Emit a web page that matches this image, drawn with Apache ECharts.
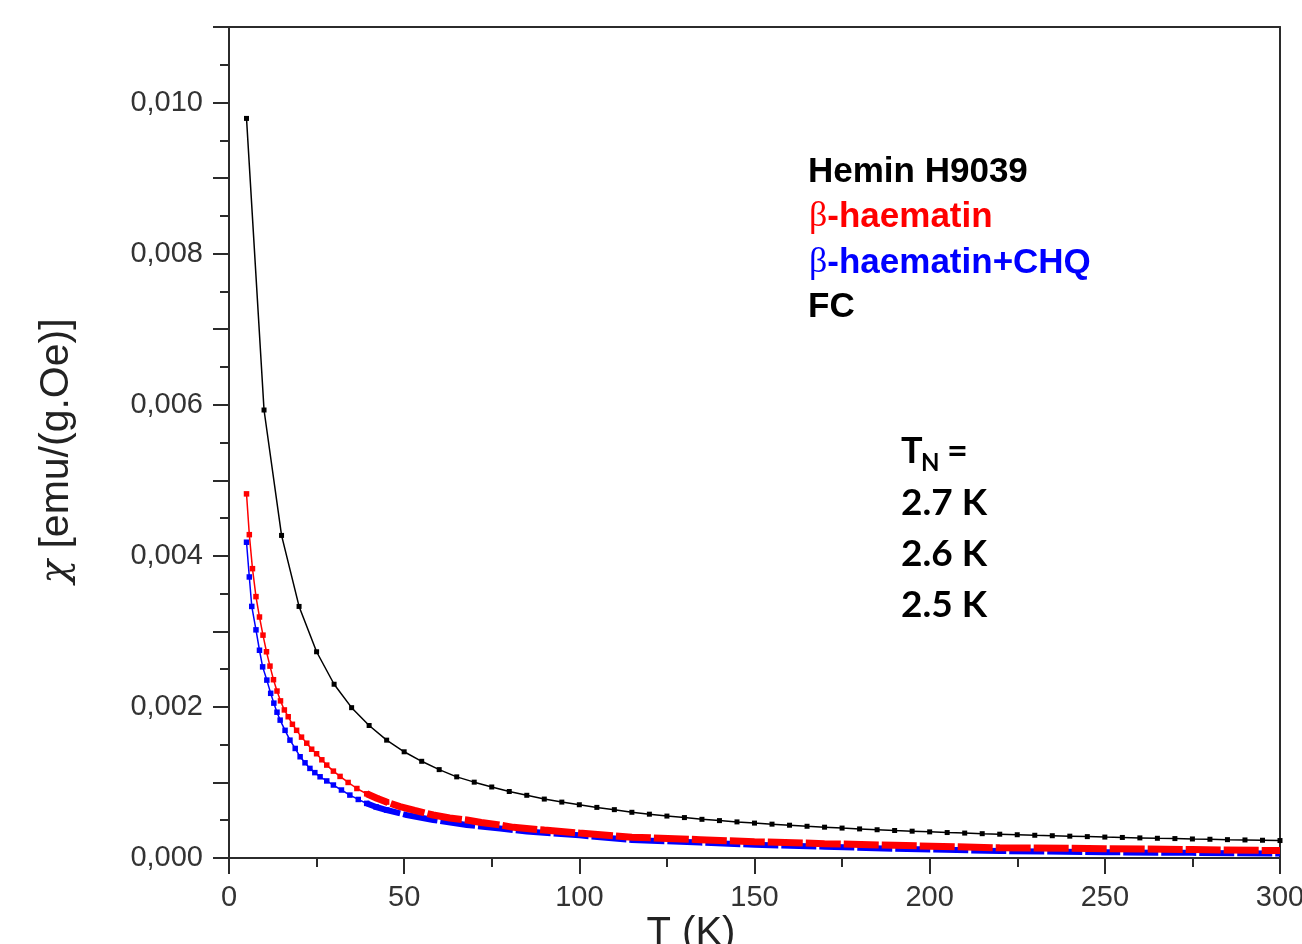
<!DOCTYPE html>
<html>
<head>
<meta charset="utf-8">
<title>Susceptibility vs temperature</title>
<script src="https://cdn.jsdelivr.net/npm/echarts@6/dist/echarts.min.js"></script>
<style>
  html, body { margin: 0; padding: 0; background: #fff; }
  #chart { width: 1302px; height: 944px; }
</style>
</head>
<body>
<div id="chart"></div>
<script>
// Hemin H9039 (FC), temperature in K and susceptibility in emu/(g.Oe)
const heminT = [5, 10, 15, 20, 25, 30, 35, 40, 45, 50, 55, 60, 65, 70, 75, 80, 85, 90, 95, 100,
  105, 110, 115, 120, 125, 130, 135, 140, 145, 150, 155, 160, 165, 170, 175, 180, 185, 190, 195, 200,
  205, 210, 215, 220, 225, 230, 235, 240, 245, 250, 255, 260, 265, 270, 275, 280, 285, 290, 295, 300];
const heminChi = [0.00979, 0.00593, 0.00427, 0.00333, 0.00273, 0.00230, 0.00199, 0.001754, 0.00156, 0.001406,
  0.00128, 0.00117, 0.001074, 0.001004, 0.00094, 0.00088, 0.00083, 0.00078, 0.00074, 0.000705,
  0.00067, 0.00064, 0.000605, 0.00058, 0.000555, 0.000535, 0.000512, 0.000495, 0.000478, 0.000462,
  0.000448, 0.000434, 0.00042, 0.000408, 0.000396, 0.000385, 0.000374, 0.000364, 0.000355, 0.000346,
  0.000337, 0.00033, 0.000322, 0.000315, 0.000308, 0.000301, 0.000295, 0.000289, 0.000283, 0.000277,
  0.000272, 0.000266, 0.000261, 0.000257, 0.000252, 0.000248, 0.000243, 0.000239, 0.000235, 0.000231];

// beta-haematin
const betaT = [5, 5.8, 6.7, 7.7, 8.7, 9.7, 10.7, 11.7, 12.7, 13.7, 14.7, 15.8, 16.9, 18.1, 19.3, 20.7,
  22.2, 23.6, 25, 26.5, 27.9, 29.8, 31.7, 34, 36.5, 39.3, 42.2, 45, 48.8, 53, 58.3, 63, 67.9, 72,
  77.4, 81.2, 90, 100, 115, 134.5, 150, 170, 190, 220, 250, 275, 300];
const betaChi = [0.00482, 0.00428, 0.00383, 0.00346, 0.00319, 0.00295, 0.00273, 0.00254, 0.00236, 0.00221,
  0.00208, 0.00196, 0.00187, 0.00177, 0.00169, 0.00160, 0.00152, 0.00144, 0.00138, 0.00130, 0.00123,
  0.00115, 0.00108, 0.00100, 0.00092, 0.00085, 0.00079, 0.00074, 0.00068, 0.00063, 0.000569, 0.00053,
  0.000503, 0.00047, 0.000437, 0.000406, 0.00037, 0.00033, 0.000276, 0.000243, 0.000216, 0.00019,
  0.000168, 0.000135, 0.000124, 0.000111, 0.000098];

// beta-haematin + CHQ
const chqT = [5, 5.8, 6.5, 7.7, 8.7, 9.6, 10.8, 11.9, 12.8, 13.7, 14.6, 16, 17.4, 18.9, 20.3, 21.7,
  23.1, 24.5, 26, 27.9, 29.8, 32.1, 34.5, 36.9, 39.3, 42, 45, 50.7, 58.3, 67.9, 77.4, 85, 100, 115,
  134.5, 150, 170, 190, 220, 250, 275, 300];
const chqChi = [0.00418, 0.00372, 0.00333, 0.00302, 0.00275, 0.00253, 0.002355, 0.00218, 0.00205, 0.00193,
  0.001825, 0.00169, 0.00156, 0.00145, 0.00134, 0.00126, 0.001186, 0.00113, 0.001075, 0.00102, 0.000966,
  0.0009, 0.000833, 0.000775, 0.000723, 0.000675, 0.000635, 0.000569, 0.000503, 0.000437, 0.00039,
  0.00035, 0.0003, 0.000238, 0.000204, 0.000175, 0.00015, 0.000122, 0.000092, 0.000076, 0.000068, 0.000058];

const xTicks = [0, 50, 100, 150, 200, 250, 300];

const RED = '#ff0000';
const BLUE = '#0000ff';
const AXIS = '#2b2b2b';

function pairs(xs, ys) { return xs.map((x, i) => [x, ys[i]]); }
const below = (arr, lim) => arr.filter(p => p[0] <= lim);
const above = (arr, lim) => arr.filter(p => p[0] >= lim);

const hemin = pairs(heminT, heminChi);
const beta = pairs(betaT, betaChi);
const chq = pairs(chqT, chqChi);

const chart = echarts.init(document.getElementById('chart'), null, { renderer: 'canvas' });

const labelFont = { fontFamily: 'Liberation Sans', fontSize: 29, color: '#333' };

const option = {
  backgroundColor: '#fff',
  animation: false,
  grid: { left: 229, right: 22, top: 27, bottom: 86, containLabel: false, outerBoundsMode: 'none' },
  xAxis: [{
    type: 'value', min: 0, max: 300, interval: 50,
    axisLine: { show: true, onZero: false, lineStyle: { color: AXIS, width: 2 } },
    axisTick: { show: true, length: 16, lineStyle: { color: AXIS, width: 2 } },
    minorTick: { show: true, splitNumber: 2, length: 9, lineStyle: { color: AXIS, width: 2 } },
    splitLine: { show: false },
    axisLabel: Object.assign({ margin: 25, formatter: v => (xTicks.includes(v) ? String(v) : '') }, labelFont)
  }, {
    type: 'value', min: 0, max: 300, position: 'top',
    axisLine: { show: true, onZero: false, lineStyle: { color: AXIS, width: 2 } },
    axisTick: { show: false }, axisLabel: { show: false }, splitLine: { show: false }
  }],
  yAxis: [{
    type: 'value', min: 0, max: 0.011, interval: 0.001,
    axisLine: { show: true, onZero: false, lineStyle: { color: AXIS, width: 2 } },
    axisTick: { show: true, length: 16, lineStyle: { color: AXIS, width: 2 } },
    minorTick: { show: true, splitNumber: 2, length: 9, lineStyle: { color: AXIS, width: 2 } },
    splitLine: { show: false },
    axisLabel: Object.assign({
      margin: 26,
      formatter: v => {
        const k = Math.round(v * 1000);
        return k % 2 === 0 ? (k / 1000).toFixed(3).replace('.', ',') : '';
      }
    }, labelFont)
  }, {
    type: 'value', min: 0, max: 0.011, position: 'right',
    axisLine: { show: true, onZero: false, lineStyle: { color: AXIS, width: 2 } },
    axisTick: { show: false }, axisLabel: { show: false }, splitLine: { show: false }
  }],
  series: [
    // dense high-temperature runs render as a thick broken band
    {
      type: 'line', data: above(chq, 39), showSymbol: false, clip: true, z: 2,
      lineStyle: { color: BLUE, width: 6, type: [35, 3] }
    },
    {
      type: 'line', data: below(chq, 45), symbol: 'rect', symbolSize: 5.5, clip: true, z: 3,
      itemStyle: { color: BLUE }, lineStyle: { color: BLUE, width: 1.5 }
    },
    {
      type: 'line', data: above(beta, 39), showSymbol: false, clip: true, z: 4,
      lineStyle: { color: RED, width: 7, type: [35, 3], dashOffset: 12 }
    },
    {
      type: 'line', data: below(beta, 45), symbol: 'rect', symbolSize: 5.5, clip: true, z: 5,
      itemStyle: { color: RED }, lineStyle: { color: RED, width: 1.5 }
    },
    {
      type: 'line', data: hemin, symbol: 'rect', symbolSize: 5, clip: true, z: 6,
      itemStyle: { color: '#000' }, lineStyle: { color: '#000', width: 1.5 }
    }
  ],
  graphic: [
    // axis titles
    {
      type: 'text', x: 57, y: 451, rotation: Math.PI / 2, z: 10,
      style: {
        text: '{c|χ} [emu/(g.Oe)]', align: 'center', verticalAlign: 'middle',
        fill: '#222', font: '41px "Liberation Sans"',
        rich: { c: { fontFamily: 'DejaVu Serif', fontStyle: 'italic', fontSize: 39, fill: '#222' } }
      }
    },
    {
      type: 'text', x: 691, y: 914, z: 10,
      style: { text: 'T (K)', align: 'center', verticalAlign: 'top', fill: '#222', font: '40px "Liberation Sans"' }
    },
    // sample labels
    {
      type: 'text', x: 808, y: 172, z: 10,
      style: { text: 'Hemin H9039', verticalAlign: 'middle', fill: '#000', font: 'bold 35px "Liberation Sans"' }
    },
    {
      type: 'text', x: 809, y: 217, z: 10,
      style: {
        text: '{g|β}{t|-haematin}', verticalAlign: 'middle',
        rich: {
          g: { fontFamily: 'Liberation Serif', fontSize: 36, fill: RED },
          t: { fontFamily: 'Liberation Sans', fontWeight: 'bold', fontSize: 35, fill: RED }
        }
      }
    },
    {
      type: 'text', x: 809, y: 263, z: 10,
      style: {
        text: '{g|β}{t|-haematin+CHQ}', verticalAlign: 'middle',
        rich: {
          g: { fontFamily: 'Liberation Serif', fontSize: 36, fill: BLUE },
          t: { fontFamily: 'Liberation Sans', fontWeight: 'bold', fontSize: 35, fill: BLUE }
        }
      }
    },
    {
      type: 'text', x: 808, y: 307, z: 10,
      style: { text: 'FC', verticalAlign: 'middle', fill: '#000', font: 'bold 35px "Liberation Sans"' }
    },
    // Néel temperatures
    {
      type: 'text', x: 901, y: 451, z: 10,
      style: { text: 'T', verticalAlign: 'middle', fill: '#000', font: 'bold 36px Lato' }
    },
    {
      type: 'text', x: 921, y: 463, z: 10,
      style: { text: 'N', verticalAlign: 'middle', fill: '#000', font: 'bold 24px Lato' }
    },
    {
      type: 'text', x: 947, y: 451, z: 10,
      style: { text: '=', verticalAlign: 'middle', fill: '#000', font: 'bold 36px Lato' }
    },
    {
      type: 'text', x: 901, y: 503, z: 10,
      style: { text: '2.7 K', verticalAlign: 'middle', fill: '#000', font: 'bold 37px Lato' }
    },
    {
      type: 'text', x: 901, y: 554, z: 10,
      style: { text: '2.6 K', verticalAlign: 'middle', fill: '#000', font: 'bold 37px Lato' }
    },
    {
      type: 'text', x: 901, y: 605, z: 10,
      style: { text: '2.5 K', verticalAlign: 'middle', fill: '#000', font: 'bold 37px Lato' }
    }
  ]
};

chart.setOption(option);
</script>
</body>
</html>
